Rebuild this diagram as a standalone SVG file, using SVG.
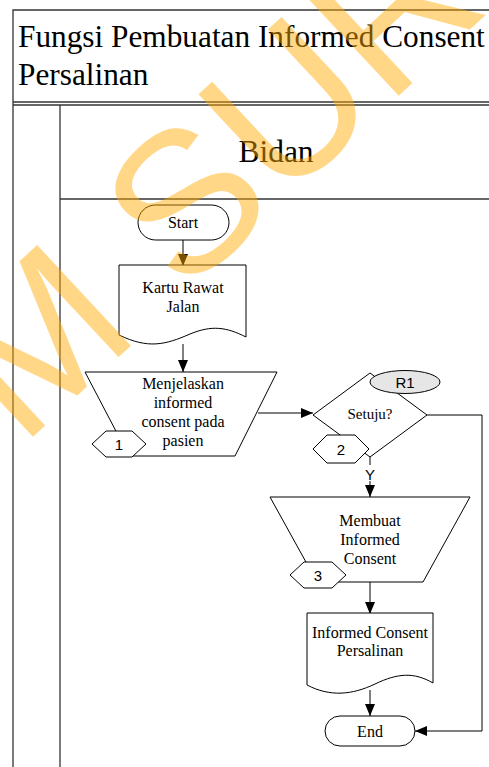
<svg xmlns="http://www.w3.org/2000/svg" width="489" height="767" viewBox="0 0 489 767">
  <style>
    .frame { fill: none; stroke: #333; stroke-width: 1.3; }
    .shape { fill: #fff; stroke: #000; stroke-width: 1; }
    .conn { fill: none; stroke: #000; stroke-width: 1; }
    .serif { font-family: "Liberation Serif", "Times New Roman", serif; fill: #000; }
    .sans { font-family: "Liberation Sans", Arial, sans-serif; fill: #000; }
    .lbl { font-size: 16px; text-anchor: middle; }
    .ref { font-size: 15px; text-anchor: middle; }
    .mark { font-family: "Liberation Sans", Arial, sans-serif; font-size: 200px; fill: #FFAA00; fill-opacity: 0.47; }
  </style>
  <defs>
    <marker id="arrow" viewBox="0 0 12 10" refX="12" refY="5" markerWidth="12" markerHeight="10" markerUnits="userSpaceOnUse" orient="auto">
      <path d="M0,0 L12,5 L0,10 Z" fill="#000"/>
    </marker>
  </defs>

  <rect width="489" height="767" fill="#fff"/>

  <!-- swimlane frame -->
  <g id="frame">
    <path class="frame" d="M13,767 V10 H489"/>
    <line class="frame" x1="13" y1="102" x2="489" y2="102"/>
    <line class="frame" x1="13" y1="105" x2="489" y2="105"/>
    <line class="frame" x1="60" y1="105" x2="60" y2="767"/>
    <line class="frame" x1="60" y1="199" x2="489" y2="199"/>
    <text class="serif" x="18" y="47" font-size="31.3">Fungsi Pembuatan Informed Consent</text>
    <text class="serif" x="18" y="85" font-size="31.3">Persalinan</text>
    <text class="serif" x="276" y="162" font-size="31.5" text-anchor="middle">Bidan</text>
  </g>

  <!-- connectors -->
  <g id="connectors">
    <line class="conn" x1="183" y1="240" x2="183" y2="266" marker-end="url(#arrow)"/>
    <line class="conn" x1="183" y1="344" x2="183" y2="372" marker-end="url(#arrow)"/>
    <line class="conn" x1="258" y1="413" x2="313" y2="413" marker-end="url(#arrow)"/>
    <line class="conn" x1="370" y1="457" x2="370" y2="497" marker-end="url(#arrow)"/>
    <rect x="363" y="465" width="14" height="16" fill="#fff"/>
    <text class="sans ref" x="370" y="480">Y</text>
    <line class="conn" x1="370" y1="582" x2="370" y2="614" marker-end="url(#arrow)"/>
    <line class="conn" x1="370" y1="690" x2="370" y2="716" marker-end="url(#arrow)"/>
    <path class="conn" d="M427,415 H482 V731 H415" marker-end="url(#arrow)"/>
  </g>

  <g id="start">
    <rect class="shape" x="138" y="205" width="91" height="35" rx="17.5"/>
    <text class="serif lbl" x="183" y="227.5">Start</text>
  </g>

  <g id="kartu-rawat-jalan">
    <path class="shape" d="M119,265 H246 V337 C226,327 212,325 190,334 C165,345 148,349 119,335 Z"/>
    <text class="serif lbl" x="183" y="292.5">Kartu Rawat</text>
    <text class="serif lbl" x="183" y="311.5">Jalan</text>
  </g>

  <g id="menjelaskan">
    <path class="shape" d="M85,372 H277 L235,456 H129 Z"/>
    <text class="serif lbl" x="183" y="389">Menjelaskan</text>
    <text class="serif lbl" x="183" y="408">informed</text>
    <text class="serif lbl" x="183" y="427">consent pada</text>
    <text class="serif lbl" x="183" y="446">pasien</text>
  </g>

  <g id="ref-1">
    <path class="shape" d="M92,444 L106,431 H132 L146,444 L132,457 H106 Z"/>
    <text class="sans ref" x="119" y="449.5">1</text>
  </g>

  <g id="setuju">
    <path class="shape" d="M313,415 L370,373 L427,415 L370,457 Z"/>
    <text class="serif" x="370" y="419" font-size="15" text-anchor="middle">Setuju?</text>
  </g>

  <g id="ref-r1">
    <ellipse cx="405" cy="382" rx="35" ry="11.5" fill="#e6e6e6" stroke="#000" stroke-width="1"/>
    <text class="sans ref" x="405" y="387.5">R1</text>
  </g>

  <g id="ref-2">
    <path class="shape" d="M313,449 L327,435 H355 L369,449 L355,463 H327 Z"/>
    <text class="sans ref" x="341" y="454.5">2</text>
  </g>

  <g id="membuat">
    <path class="shape" d="M270,497 H470 L423,582 H317 Z"/>
    <text class="serif lbl" x="370" y="526">Membuat</text>
    <text class="serif lbl" x="370" y="545">Informed</text>
    <text class="serif lbl" x="370" y="564">Consent</text>
  </g>

  <g id="ref-3">
    <path class="shape" d="M290,575 L304,562 H332 L346,575 L332,588 H304 Z"/>
    <text class="sans ref" x="318" y="580.5">3</text>
  </g>

  <g id="informed-consent-persalinan">
    <path class="shape" d="M307,613 H433 V683 C414,672 398,673 375,684 C352,695 330,697 307,685 Z"/>
    <text class="serif lbl" x="370" y="637.5">Informed Consent</text>
    <text class="serif lbl" x="370" y="656">Persalinan</text>
  </g>

  <g id="end">
    <rect class="shape" x="325" y="716" width="90" height="30" rx="15"/>
    <text class="serif lbl" x="370" y="736.5">End</text>
  </g>

  <!-- watermark -->
  <g id="watermark">
    <text class="mark" x="0" y="0" transform="translate(21,448) rotate(-43)" xml:space="preserve">M SUR</text>
  </g>
</svg>
